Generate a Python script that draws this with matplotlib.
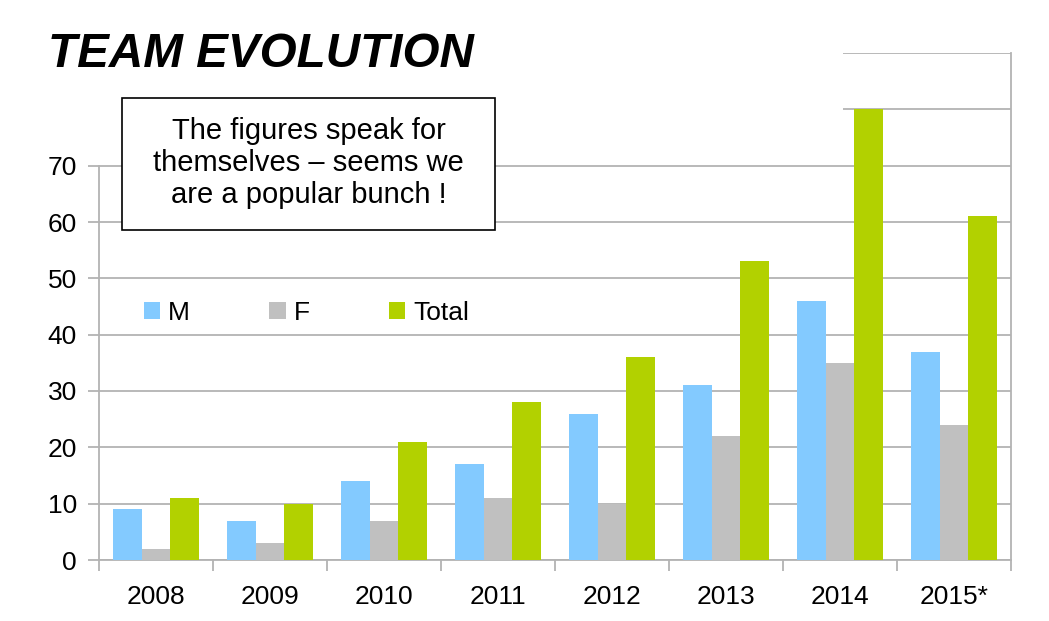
import matplotlib
matplotlib.use("Agg")
import matplotlib.pyplot as plt
import numpy as np
from matplotlib.patches import Patch, Rectangle

plt.rcParams['font.family'] = ['Liberation Sans', 'DejaVu Sans']

years = ["2008", "2009", "2010", "2011", "2012", "2013", "2014", "2015*"]
male = [9, 7, 14, 17, 26, 31, 46, 37]
female = [2, 3, 7, 11, 10, 22, 35, 24]
total = [11, 10, 21, 28, 36, 53, 80, 61]
series_names = ["M", "F", "Total"]
colors = ["#83CAFF", "#C0C0C0", "#B2D100"]
ytick_vals = [0, 10, 20, 30, 40, 50, 60, 70]
upper_grid = [80, 90]

W, H = 1049, 621
fig = plt.figure(figsize=(W / 100, H / 100), dpi=100)
ax = fig.add_axes([99 / W, 1 - 560 / H, (1011 - 99) / W, (560 - 53) / H])

x = np.arange(len(years))
bw = 0.25
for i, (vals, c) in enumerate(zip([male, female, total], colors)):
    ax.bar(x + (i - 1) * bw, vals, width=bw, color=c, zorder=3, linewidth=0)

ax.set_xlim(-0.5, len(years) - 0.5)
ax.set_ylim(0, 90)

gridc = "#B3B3B3"
ax.hlines(ytick_vals, -0.5, len(years) - 0.5, color=gridc, lw=1.3, zorder=1)
xcut = -0.5 + (843 - 99) / 114.0
ax.hlines(upper_grid, xcut, len(years) - 0.5, color=gridc, lw=1.3, zorder=1)

ax.spines["top"].set_visible(False)
for s in ["left", "right", "bottom"]:
    ax.spines[s].set_color(gridc)
    ax.spines[s].set_linewidth(1.3)
ax.spines["left"].set_bounds(0, 70)

ax.set_yticks(ytick_vals)
ax.set_yticklabels([str(v) for v in ytick_vals])
ax.tick_params(axis="y", length=8, width=1.3, color=gridc, pad=8,
               labelsize=19, labelcolor="black")

ax.set_xticks(x)
ax.set_xticklabels(years)
ax.set_xticks(np.arange(-0.5, len(years)), minor=True)
ax.tick_params(axis="x", which="major", length=0, pad=18, labelsize=19,
               labelcolor="black")
ax.tick_params(axis="x", which="minor", length=8, width=1.3, color=gridc)

handles = [Patch(facecolor=c, edgecolor="none") for c in colors]
leg = fig.legend(handles, series_names, loc="center left",
                 bbox_to_anchor=(144 / W, 1 - 313 / H), ncol=3, frameon=False,
                 fontsize=19, handlelength=0.62, handleheight=0.62,
                 handletextpad=0.3, columnspacing=3.0, borderpad=0,
                 borderaxespad=0)

fig.text(48 / W, 1 - 67 / H, "TEAM EVOLUTION", fontsize=34.3,
         fontweight="bold", fontstyle="italic", va="baseline", ha="left")

fig.patches.append(Rectangle((122 / W, 1 - 230 / H), 373 / W, 132 / H,
                             transform=fig.transFigure, facecolor="white",
                             edgecolor="black", linewidth=1.2, zorder=5))
fig.text(308.5 / W, 1 - 163 / H,
         "The figures speak for\nthemselves \u2013 seems we\nare a popular bunch !",
         fontsize=21, ha="center", va="center", linespacing=1.18, zorder=6)

fig.savefig("out.png", dpi=100, facecolor="white")
